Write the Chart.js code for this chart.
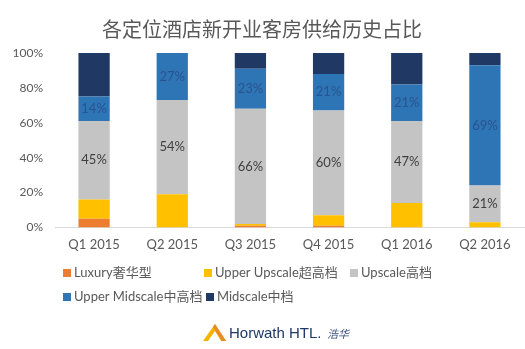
<!DOCTYPE html>
<html>
<head>
<meta charset="utf-8">
<script src="https://cdn.jsdelivr.net/npm/chart.js@4"></script>
<style>
  html, body { margin: 0; padding: 0; background: #fff; }
  #wrap { width: 525px; height: 349px; }
</style>
</head>
<body>
<div id="wrap"><canvas id="myChart" width="525" height="349"></canvas></div>
<script>
let categories = ['Q1 2015','Q2 2015','Q3 2015','Q4 2015','Q1 2016','Q2 2016'];
let luxury = [5,0,1,1,0,0];
let upperUpscale = [11,19,1,6,14,3];
let upscale = [45,54,66,60,47,21];
let upperMidscale = [14,27,23,21,21,69];
let midscale = [25,0,9,12,18,7];
let seriesNames = ['Luxury奢华型','Upper Upscale超高档','Upscale高档','Upper Midscale中高档','Midscale中档'];
let yTicks = [0,20,40,60,80,100];

let colors = ['#ED7D31','#FFC000','#C4C4C4','#2E75B6','#1F3864'];
let latin = 'Lato, "Noto Sans CJK SC", sans-serif';

// labels on the Upscale and Upper Midscale segments
let segLabels = {
  id:'segLabels',
  afterDatasetsDraw(chart){
    let ctx = chart.ctx;
    [[2,'#404040'],[3,'#2A5490']].forEach(function(p){
      let meta = chart.getDatasetMeta(p[0]);
      meta.data.forEach(function(bar,i){
        let v = chart.data.datasets[p[0]].data[i];
        if(!v) return;
        ctx.save();
        ctx.font = '13px ' + latin;
        ctx.fillStyle = p[1];
        ctx.textAlign = 'center';
        ctx.textBaseline = 'middle';
        ctx.fillText(v + '%', bar.x, (bar.y + bar.base)/2);
        ctx.restore();
      });
    });
  }
};

// two-row legend and the logo line under the chart
let legendRows = [
  [[0,63],[1,204],[2,350]],
  [[3,63],[4,206]]
];
let bottomBits = {
  id:'bottomBits',
  afterDraw(chart){
    let ctx = chart.ctx;
    ctx.save();
    ctx.font = '13px ' + latin;
    ctx.textBaseline = 'middle';
    legendRows.forEach(function(row,r){
      let y = 273 + r*24;
      row.forEach(function(it){
        ctx.fillStyle = colors[it[0]];
        ctx.fillRect(it[1], y-4, 8, 8);
        ctx.fillStyle = '#595959';
        ctx.fillText(seriesNames[it[0]], it[1]+11, y);
      });
    });
    // logo mark
    ctx.fillStyle = '#F5B400';
    ctx.beginPath();
    ctx.moveTo(203,341); ctx.lineTo(215,324); ctx.lineTo(226,341); ctx.lineTo(221,341); ctx.lineTo(215,331); ctx.lineTo(208,341);
    ctx.closePath(); ctx.fill();
    ctx.fillStyle = '#E9892B';
    ctx.beginPath();
    ctx.moveTo(215,324); ctx.lineTo(226,341); ctx.lineTo(222,341); ctx.lineTo(213,327);
    ctx.closePath(); ctx.fill();
    ctx.fillStyle = '#1F3864';
    ctx.font = '15px "Liberation Sans", sans-serif';
    ctx.fillText('Horwath HTL.', 229, 334);
    ctx.font = 'italic 11px "Noto Sans CJK SC", sans-serif';
    ctx.fillStyle = '#3A4F80';
    ctx.fillText('浩华', 327, 334);
    ctx.restore();
  }
};

let myChart = document.getElementById('myChart').getContext('2d');
let chart = new Chart(myChart, {
  type:'bar',
  data:{
    labels:categories,
    datasets:[luxury,upperUpscale,upscale,upperMidscale,midscale].map(function(d,i){
      return {label:seriesNames[i], data:d, backgroundColor:colors[i], borderWidth:0,
              barPercentage:0.4, categoryPercentage:1};
    })
  },
  options:{
    responsive:false,
    animation:false,
    layout:{padding:{top:0,left:0,right:1,bottom:94}},
    scales:{
      x:{
        stacked:true,
        grid:{display:false},
        border:{display:true,color:'#D9D9D9'},
        ticks:{color:'#595959',font:{family:latin,size:13},padding:2}
      },
      y:{
        stacked:true,
        min:0,max:100,
        afterBuildTicks(scale){ scale.ticks = yTicks.map(function(v){return {value:v};}); },
        afterFit(scale){ scale.width = 55; },
        grid:{display:false,drawTicks:false},
        border:{display:false},
        ticks:{color:'#595959',font:{family:latin,size:12},padding:12,
               callback:function(v){return v + '%';}}
      }
    },
    plugins:{
      legend:{display:false},
      tooltip:{enabled:false},
      title:{
        display:true,
        text:'各定位酒店新开业客房供给历史占比',
        color:'#595959',
        font:{family:'"Noto Sans CJK SC", sans-serif',size:20,weight:'normal'},
        padding:{top:17,bottom:12}
      }
    }
  },
  plugins:[segLabels,bottomBits]
});
</script>
</body>
</html>
